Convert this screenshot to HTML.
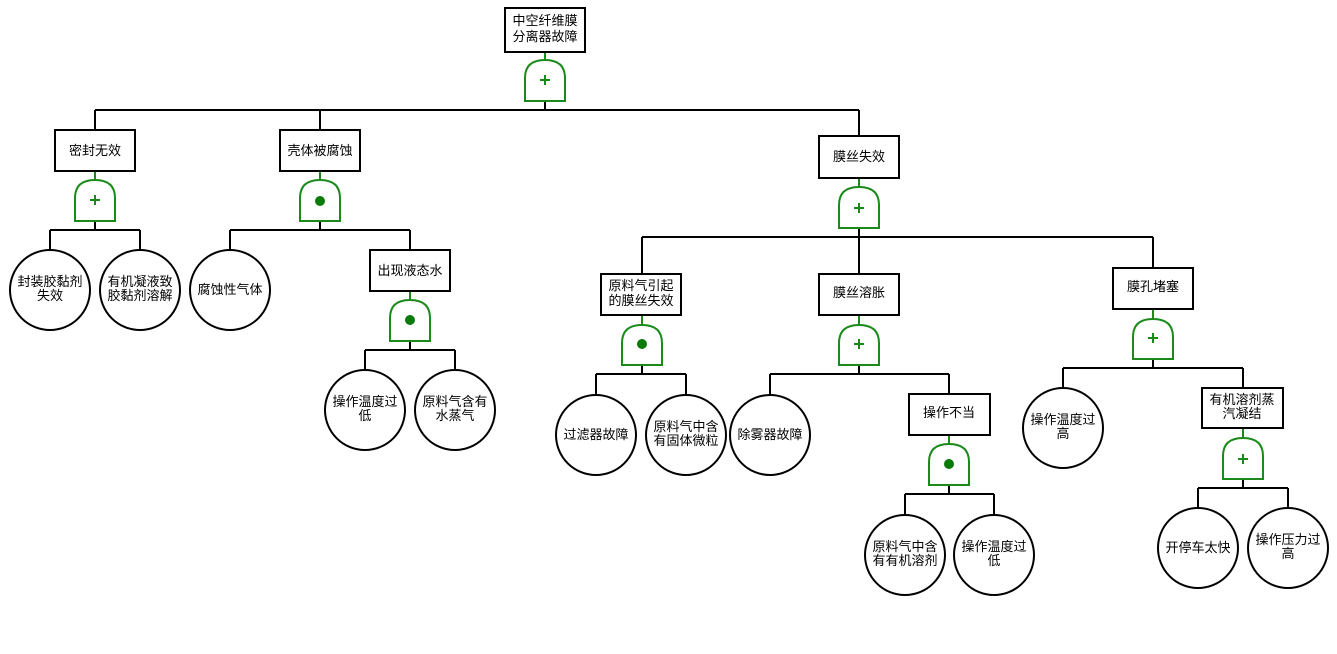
<!DOCTYPE html>
<html><head><meta charset="utf-8"><style>
html,body{margin:0;padding:0;background:#fff;}
svg{display:block;}
text{font-family:"Liberation Sans","Noto Sans CJK SC",sans-serif;font-size:13px;fill:#000;text-anchor:middle;}
.b{fill:#fff;stroke:#000;stroke-width:2;}
.l{stroke:#000;stroke-width:2;fill:none;}
.g{stroke:#1a8a1a;stroke-width:2;fill:#fff;}
.gs{stroke:#1a8a1a;stroke-width:2;}
.p{stroke:#1a8a1a;stroke-width:2;}
.d{fill:#0a7a0a;}
</style></head><body>
<svg width="1337" height="654" viewBox="0 0 1337 654" xmlns="http://www.w3.org/2000/svg">
<!-- connectors -->
<g class="l">
<path d="M95 110H859M95 110V130M320 110V130M859 110V135M545 101V110"/>
<path d="M50 230H140M50 230V250M140 230V250M95 221V230"/>
<path d="M230 230H410M230 230V250M410 230V250M320 221V230"/>
<path d="M365 350H455M365 350V370M455 350V370M410 341V350"/>
<path d="M642 237H1153M642 237V274M859 237V274M1153 237V268M859 228V237"/>
<path d="M596 374H686M596 374V395M686 374V395M642 365V374"/>
<path d="M770 374H949M770 374V395M949 374V394M859 365V374"/>
<path d="M905 494H994M905 494V515M994 494V515M949 485V494"/>
<path d="M1063 368H1243M1063 368V388M1243 368V388M1153 359V368"/>
<path d="M1198 488H1288M1198 488V509M1288 488V509M1243 479V488"/>
</g>
<!-- green stems -->
<g class="gs">
<path d="M545 52V60M95 171V180M320 171V180M410 291V300M859 178V187M642 315V325M859 315V325M1153 309V319M949 435V444M1243 428V438"/>
</g>
<!-- gates -->
<g class="g">
<path d="M525 101V78Q525 60 545 60Q565 60 565 78V101Z"/>
<path d="M75 221V198Q75 180 95 180Q115 180 115 198V221Z"/>
<path d="M300 221V198Q300 180 320 180Q340 180 340 198V221Z"/>
<path d="M390 341V318Q390 300 410 300Q430 300 430 318V341Z"/>
<path d="M839 228V205Q839 187 859 187Q879 187 879 205V228Z"/>
<path d="M622 365V343Q622 325 642 325Q662 325 662 343V365Z"/>
<path d="M839 365V343Q839 325 859 325Q879 325 879 343V365Z"/>
<path d="M1133 359V337Q1133 319 1153 319Q1173 319 1173 337V359Z"/>
<path d="M929 485V462Q929 444 949 444Q969 444 969 462V485Z"/>
<path d="M1223 479V456Q1223 438 1243 438Q1263 438 1263 456V479Z"/>
</g>
<g class="p">
<path d="M545 75V85M540 80H550"/>
<path d="M95 195V205M90 200H100"/>
<path d="M859 203V213M854 208H864"/>
<path d="M859 339V349M854 344H864"/>
<path d="M1153 333V343M1148 338H1158"/>
<path d="M1243 454V464M1238 459H1248"/>
</g>
<g class="d">
<circle cx="320" cy="201" r="5"/>
<circle cx="410" cy="320" r="5"/>
<circle cx="642" cy="344" r="5"/>
<circle cx="949" cy="464" r="5"/>
</g>
<!-- boxes -->
<rect class="b" x="505" y="8" width="80" height="44"/>
<text x="545" y="25">中空纤维膜</text><text x="545" y="41">分离器故障</text>
<rect class="b" x="55" y="130" width="80" height="41"/><text x="95" y="155">密封无效</text>
<rect class="b" x="280" y="130" width="80" height="41"/><text x="320" y="155">壳体被腐蚀</text>
<rect class="b" x="819" y="136" width="80" height="42"/><text x="859" y="161">膜丝失效</text>
<rect class="b" x="370" y="250" width="80" height="41"/><text x="410" y="275">出现液态水</text>
<rect class="b" x="601" y="274" width="80" height="41"/><text x="641" y="290">原料气引起</text><text x="641" y="305">的膜丝失效</text>
<rect class="b" x="819" y="274" width="80" height="41"/><text x="859" y="297">膜丝溶胀</text>
<rect class="b" x="1113" y="268" width="80" height="41"/><text x="1153" y="291">膜孔堵塞</text>
<rect class="b" x="909" y="394" width="81" height="41"/><text x="949" y="417">操作不当</text>
<rect class="b" x="1202" y="388" width="81" height="40"/><text x="1242" y="404">有机溶剂蒸</text><text x="1242" y="418">汽凝结</text>
<!-- circles -->
<ellipse class="b" cx="50" cy="290" rx="40" ry="40"/><text x="50" y="286">封装胶黏剂</text><text x="50" y="300">失效</text>
<ellipse class="b" cx="140" cy="290" rx="40" ry="40"/><text x="140" y="286">有机凝液致</text><text x="140" y="300">胶黏剂溶解</text>
<ellipse class="b" cx="230" cy="290" rx="40" ry="40"/><text x="230" y="294">腐蚀性气体</text>
<ellipse class="b" cx="365" cy="410" rx="40" ry="40"/><text x="365" y="406">操作温度过</text><text x="365" y="420">低</text>
<ellipse class="b" cx="455" cy="410" rx="40" ry="40"/><text x="455" y="406">原料气含有</text><text x="455" y="420">水蒸气</text>
<ellipse class="b" cx="596" cy="435" rx="40" ry="40"/><text x="596" y="439">过滤器故障</text>
<ellipse class="b" cx="686" cy="435" rx="40" ry="40"/><text x="686" y="431">原料气中含</text><text x="686" y="445">有固体微粒</text>
<ellipse class="b" cx="770" cy="435" rx="40" ry="40"/><text x="770" y="439">除雾器故障</text>
<ellipse class="b" cx="905" cy="555" rx="40" ry="40"/><text x="905" y="551">原料气中含</text><text x="905" y="565">有有机溶剂</text>
<ellipse class="b" cx="994" cy="555" rx="40" ry="40"/><text x="994" y="551">操作温度过</text><text x="994" y="565">低</text>
<ellipse class="b" cx="1063" cy="428" rx="40" ry="40"/><text x="1063" y="424">操作温度过</text><text x="1063" y="438">高</text>
<ellipse class="b" cx="1198" cy="548" rx="40" ry="40"/><text x="1198" y="552">开停车太快</text>
<ellipse class="b" cx="1288" cy="548" rx="40" ry="40"/><text x="1288" y="544">操作压力过</text><text x="1288" y="558">高</text>
</svg>
</body></html>
